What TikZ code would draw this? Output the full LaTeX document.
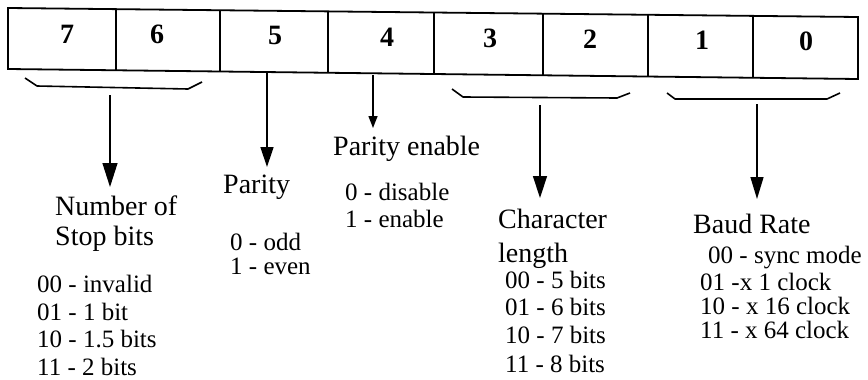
\documentclass[tikz,border=0pt]{standalone}
\usepackage{fontspec}
\setmainfont{Liberation Serif}
\usetikzlibrary{arrows.meta}
\begin{document}
\begin{tikzpicture}[x=1pt,y=-1pt,
  reg/.style={line width=1.8pt, line join=miter},
  brace/.style={line width=1.6pt, line join=round},
  conn/.style={line width=1.4pt},
  bit/.style={anchor=base, inner sep=0pt, font=\fontsize{28}{30}\selectfont\bfseries},
  head/.style={anchor=base west, inner sep=0pt, font=\fontsize{28}{30}\selectfont},
  item/.style={anchor=base west, inner sep=0pt, font=\fontsize{25}{28}\selectfont}]
\useasboundingbox (0,0) rectangle (868,380);

% register
\draw[reg] (8,8) -- (858,17) -- (858,79) -- (8,69) -- cycle;
\foreach \x/\t/\b in {116/9.1/70.3, 220/10.2/71.5, 328/11.4/72.8, 434/12.5/74.0,
                      543/13.7/75.3, 648/14.8/76.5, 753/15.9/77.8}
  \draw[reg] (\x,\t) -- (\x,\b);

\node[bit] (d7) at (67,43) {7};
\node[bit] (d6) at (157,43.9) {6};
\node[bit] (d5) at (275,45) {5};
\node[bit] (d4) at (387,46) {4};
\node[bit] (d3) at (490,47) {3};
\node[bit] (d2) at (590,48) {2};
\node[bit] (d1) at (702,49) {1};
\node[bit] (d0) at (806,50) {0};

% braces
\draw[brace] (25,78) -- (37,86) -- (188,89) -- (202,82);
\draw[brace] (452,89) -- (463,97) -- (617,98) -- (630,93);
\draw[brace] (667,93) -- (675,99) -- (827,99) -- (840,93);

% arrows
\coordinate (a1s) at (110,95);  \coordinate (a1e) at (110,187);
\coordinate (a2s) at (267,73);  \coordinate (a2e) at (267,167);
\coordinate (a3s) at (373,75);  \coordinate (a3e) at (373,128);
\coordinate (a4s) at (540,105); \coordinate (a4e) at (540,198);
\coordinate (a5s) at (757,104); \coordinate (a5e) at (757,199);
\draw[conn, -{Triangle[width=15pt,length=24pt]}] (a1s) -- (a1e);
\draw[conn, -{Triangle[width=13pt,length=20pt]}] (a2s) -- (a2e);
\draw[conn, -{Triangle[width=9pt,length=12pt]}] (a3s) -- (a3e);
\draw[conn, -{Triangle[width=14pt,length=22pt]}] (a4s) -- (a4e);
\draw[conn, -{Triangle[width=13pt,length=22pt]}] (a5s) -- (a5e);

% stop bits
\node[head] (h1a) at (55,215) {Number of};
\node[head] (h1b) at (55,245) {Stop bits};
\node[item] (s00) at (37,292) {00 - invalid};
\node[item] (s01) at (37,320) {01 - 1 bit};
\node[item] (s10) at (37,347) {10 - 1.5 bits};
\node[item] (s11) at (37,375) {11 - 2 bits};

% parity
\node[head] (h2) at (223,193) {Parity};
\node[item] (p0) at (230,250) {0 - odd};
\node[item] (p1) at (230,274) {1 - even};

% parity enable
\node[head] (h3) at (333,155) {Parity enable};
\node[item] (e0) at (345,200) {0 - disable};
\node[item] (e1) at (345,227) {1 - enable};

% character length
\node[head] (h4a) at (498,228) {Character};
\node[head] (h4b) at (498,262) {length};
\node[item] (c00) at (505,288) {00 - 5 bits};
\node[item] (c01) at (505,315) {01 - 6 bits};
\node[item] (c10) at (505,343) {10 - 7 bits};
\node[item] (c11) at (505,372) {11 - 8 bits};

% baud rate
\node[head] (h5) at (693,233) {Baud Rate};
\node[item] (b00) at (708,263) {00 - sync mode};
\node[item] (b01) at (700,290) {01 -x 1 clock};
\node[item] (b10) at (700,314) {10 - x 16 clock};
\node[item] (b11) at (700,338) {11 - x 64 clock};
\end{tikzpicture}
\end{document}
